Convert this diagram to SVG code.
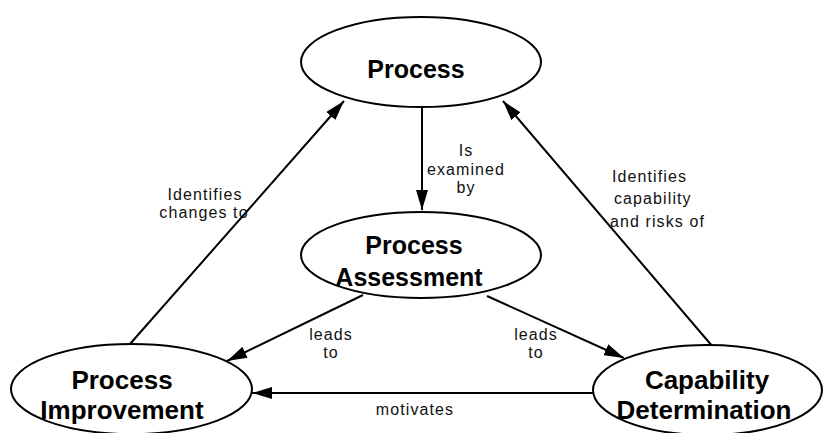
<svg xmlns="http://www.w3.org/2000/svg" width="824" height="433" viewBox="0 0 824 433">
<defs>
<marker id="ah" markerWidth="20" markerHeight="12" refX="20" refY="6" orient="auto" markerUnits="userSpaceOnUse">
<path d="M0,0 L20,6 L0,12 Z" fill="#000"/>
</marker>
<style>
.node ellipse{fill:#fff;stroke:#000;stroke-width:2}
.node text{font-family:"Liberation Sans",Arial,sans-serif;font-weight:bold;font-size:25px;text-anchor:middle;fill:#000}
.edges line{stroke:#000;stroke-width:2}
.lbl{font-family:"Liberation Sans",Arial,sans-serif;font-size:16px;letter-spacing:1.1px;fill:#111;text-anchor:middle}
</style>
</defs>
<rect width="824" height="433" fill="#fff"/>
<g class="edges">
<line x1="422" y1="107" x2="422" y2="210" marker-end="url(#ah)"/>
<line x1="130" y1="344" x2="344" y2="101" marker-end="url(#ah)"/>
<line x1="713" y1="347" x2="503" y2="101" marker-end="url(#ah)"/>
<line x1="363" y1="295" x2="227" y2="361" marker-end="url(#ah)"/>
<line x1="487" y1="296" x2="624" y2="358" marker-end="url(#ah)"/>
<line x1="593" y1="393" x2="252" y2="393" marker-end="url(#ah)"/>
<text class="lbl" x="466" y="156">Is</text>
<text class="lbl" x="466" y="175">examined</text>
<text class="lbl" x="466" y="193">by</text>
<text class="lbl" x="205" y="200">Identifies</text>
<text class="lbl" x="204" y="218">changes to</text>
<text class="lbl" x="612" y="182" style="text-anchor:start">Identifies</text>
<text class="lbl" x="614" y="204" style="text-anchor:start">capability</text>
<text class="lbl" x="610" y="227" style="text-anchor:start">and risks of</text>
<text class="lbl" x="331" y="340">leads</text>
<text class="lbl" x="331" y="358">to</text>
<text class="lbl" x="536" y="340">leads</text>
<text class="lbl" x="536" y="358">to</text>
<text class="lbl" x="415" y="415">motivates</text>
</g>
<g id="process" class="node">
<ellipse cx="421" cy="62" rx="120" ry="45"/>
<text x="416" y="78">Process</text>
</g>
<g id="process-assessment" class="node">
<ellipse cx="421" cy="255" rx="120" ry="43"/>
<text x="414" y="254">Process</text>
<text x="409" y="286">Assessment</text>
</g>
<g id="process-improvement" class="node">
<ellipse cx="131.5" cy="389" rx="120.5" ry="45"/>
<text x="122" y="389" style="font-size:26px">Process</text>
<text x="122" y="419" style="font-size:26px">Improvement</text>
</g>
<g id="capability-determination" class="node">
<ellipse cx="707.5" cy="390" rx="114.5" ry="45"/>
<text x="707" y="389" style="font-size:26px">Capability</text>
<text x="704" y="419" style="font-size:26px">Determination</text>
</g>
</svg>
